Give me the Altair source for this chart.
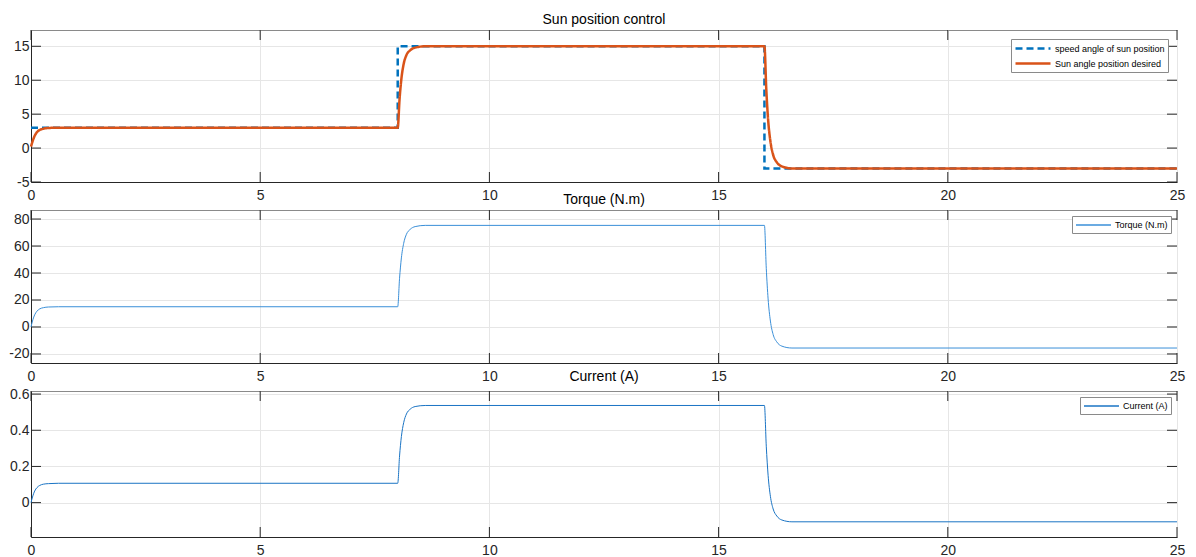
import altair as alt
import pandas as pd

# ---------------- data ----------------
T = [0, 0.04, 0.08, 0.13, 0.19, 0.27, 0.38, 0.6,
     8, 8.04, 8.08, 8.13, 8.19, 8.27, 8.38, 8.6,
     16, 16.04, 16.08, 16.13, 16.19, 16.27, 16.38, 16.6,
     25]

SUN_DESIRED = [0.2, 1.1, 1.8, 2.35, 2.67, 2.85, 2.96, 3.0,
               3.0, 7.2, 10.2, 12.4, 13.7, 14.4, 14.8, 15.0,
               15.0, 8.7, 4.2, 1.0, -1.0, -2.1, -2.7, -3.0,
               -3.0]

CMD_T = [0, 8, 16, 25]
CMD_V = [3, 15, -3, -3]

TORQUE = [0, 5.3, 9.0, 11.7, 13.4, 14.3, 14.8, 15.0,
          15.0, 36.1, 51.2, 62.0, 68.7, 72.3, 74.4, 75.3,
          75.3, 43.5, 20.8, 4.4, -5.6, -11.1, -14.2, -15.6,
          -15.6]

CURRENT = [0, 0.037, 0.064, 0.083, 0.095, 0.102, 0.105, 0.107,
           0.107, 0.258, 0.365, 0.442, 0.490, 0.516, 0.531, 0.537,
           0.537, 0.312, 0.151, 0.035, -0.035, -0.074, -0.096, -0.106,
           -0.106]

X_TICKS = [0, 5, 10, 15, 20, 25]
Y1_TICKS = [-5, 0, 5, 10, 15]
Y2_TICKS = [-20, 0, 20, 40, 60, 80]
Y3_TICKS = [0, 0.2, 0.4, 0.6]

S_CMD = "speed angle of sun position"
S_DES = "Sun angle position desired"
S_TQ = "Torque (N.m)"
S_CU = "Current (A)"

# ---------------- styling ----------------
FONT = "Liberation Sans"
W = 1146
TL = 10
TICK_COLOR = "#262626"
LABEL_COLOR = "#262626"
BLUE = "#0072BD"
ORANGE = "#D95319"
TQ_COLOR = "#3a8fd8"
CU_COLOR = "#1a74c4"
LABEL_EXPR = "replace(format(datum.value, '~g'), '\u2212', '-')"

xscale = alt.Scale(domain=[0, 25], nice=False, zero=False)
xaxis = alt.Axis(values=X_TICKS, title=None, labelFlush=False, labelPadding=6,
                 labelFont=FONT, labelFontSize=14, labelColor=LABEL_COLOR,
                 labelExpr=LABEL_EXPR, ticks=False, domainColor="#262626",
                 gridColor="#e6e6e6")


def yaxis(vals):
    return alt.Axis(values=vals, title=None, labelPadding=2, labelFont=FONT,
                    labelFontSize=14, labelColor=LABEL_COLOR,
                    labelExpr=LABEL_EXPR, ticks=False, domainColor="#262626",
                    gridColor="#e6e6e6")


def ticks(yticks, yscale, H):
    ydf = pd.DataFrame({"tv": yticks})
    xdf = pd.DataFrame({"tt": X_TICKS})
    base_y = alt.Chart(ydf).mark_rule(color=TICK_COLOR, strokeWidth=1)
    base_x = alt.Chart(xdf).mark_rule(color=TICK_COLOR, strokeWidth=1)
    yenc = alt.Y("tv:Q", scale=yscale, axis=yaxis(yticks))
    xenc = alt.X("tt:Q", scale=xscale, axis=xaxis)
    left = base_y.encode(y=yenc, x=alt.value(0), x2=alt.value(TL))
    right = base_y.encode(y=yenc, x=alt.value(W - TL), x2=alt.value(W))
    bottom = base_x.encode(x=xenc, y=alt.value(H - TL), y2=alt.value(H))
    top = base_x.encode(x=xenc, y=alt.value(0), y2=alt.value(TL))
    return [left, right, bottom, top]


def legend(offset, width, stroke_color=None):
    kw = dict(title=None, orient="top-right", offset=offset,
              fillColor="white", strokeColor="#8a8a8a", padding=3,
              labelFont=FONT, labelFontSize=9, labelColor="#000",
              symbolType="M-1,0H6", symbolSize=100,
              symbolStrokeWidth=width, rowPadding=3, labelOffset=28,
              cornerRadius=0)
    if stroke_color:
        kw["symbolStrokeColor"] = stroke_color
    return alt.Legend(**kw)


def title(text):
    return alt.TitleParams(text=text, font=FONT, fontSize=14,
                           fontWeight="normal", color="#000", offset=3,
                           anchor="middle")


# ---------- panel 1 ----------
H1 = 152
y1 = alt.Scale(domain=[-5, 17.4], nice=False, zero=False)
df_cmd = pd.DataFrame({"t": CMD_T, "v": CMD_V, "series": S_CMD})
df_des = pd.DataFrame({"t": T, "v": SUN_DESIRED, "series": S_DES})
c1 = alt.Scale(domain=[S_CMD, S_DES], range=[BLUE, ORANGE])
d1 = alt.Scale(domain=[S_CMD, S_DES], range=[[7, 4], [1, 0]])
leg1 = legend(9, 2.5)
enc1 = dict(
    x=alt.X("t:Q", scale=xscale, axis=xaxis),
    y=alt.Y("v:Q", scale=y1, axis=yaxis(Y1_TICKS)),
    color=alt.Color("series:N", scale=c1, legend=leg1),
    strokeDash=alt.StrokeDash("series:N", scale=d1, legend=leg1),
)
cmd = alt.Chart(df_cmd).mark_line(interpolate="step-after", strokeWidth=2.5).encode(**enc1)
des = alt.Chart(df_des).mark_line(interpolate="monotone", strokeWidth=2.5).encode(**enc1)
p1 = alt.layer(*ticks(Y1_TICKS, y1, H1), cmd, des).properties(
    width=W, height=H1, title=title("Sun position control"))

# ---------- panel 2 ----------
H2 = 153
y2 = alt.Scale(domain=[-26.7, 86.7], nice=False, zero=False)
df_tq = pd.DataFrame({"t": T, "tq": TORQUE, "series": S_TQ})
tq = alt.Chart(df_tq).mark_line(interpolate="monotone", strokeWidth=1).encode(
    x=alt.X("t:Q", scale=xscale, axis=xaxis),
    y=alt.Y("tq:Q", scale=y2, axis=yaxis(Y2_TICKS)),
    color=alt.Color("series:N", scale=alt.Scale(domain=[S_TQ], range=[TQ_COLOR]),
                    legend=legend(6, 1.3, TQ_COLOR)),
)
p2 = alt.layer(*ticks(Y2_TICKS, y2, H2), tq).properties(
    width=W, height=H2, title=title("Torque (N.m)"))

# ---------- panel 3 ----------
H3 = 146
y3 = alt.Scale(domain=[-0.19, 0.617], nice=False, zero=False)
df_cu = pd.DataFrame({"t": T, "cu": CURRENT, "series": S_CU})
cu = alt.Chart(df_cu).mark_line(interpolate="monotone", strokeWidth=1).encode(
    x=alt.X("t:Q", scale=xscale, axis=xaxis),
    y=alt.Y("cu:Q", scale=y3, axis=yaxis(Y3_TICKS)),
    color=alt.Color("series:N", scale=alt.Scale(domain=[S_CU], range=[CU_COLOR]),
                    legend=legend(6, 1.3, CU_COLOR)),
)
p3 = alt.layer(*ticks(Y3_TICKS, y3, H3), cu).properties(
    width=W, height=H3, title=title("Current (A)"))

chart = alt.vconcat(p1, p2, p3, spacing=28, bounds="flush").resolve_scale(
    y="independent", color="independent", strokeDash="independent"
).resolve_legend(color="independent", strokeDash="independent").properties(
    padding={"left": 0, "top": 4, "right": 0, "bottom": 0},
    background="white",
).configure_view(stroke="#8a8a8a", strokeWidth=1).configure_axis(
    labelFont=FONT, labelFontSize=14, labelColor=LABEL_COLOR,
    gridColor="#e6e6e6", gridWidth=1, domainColor="#262626", ticks=False,
)

chart.save("out.html", embed_options={"renderer": "svg", "actions": False})
